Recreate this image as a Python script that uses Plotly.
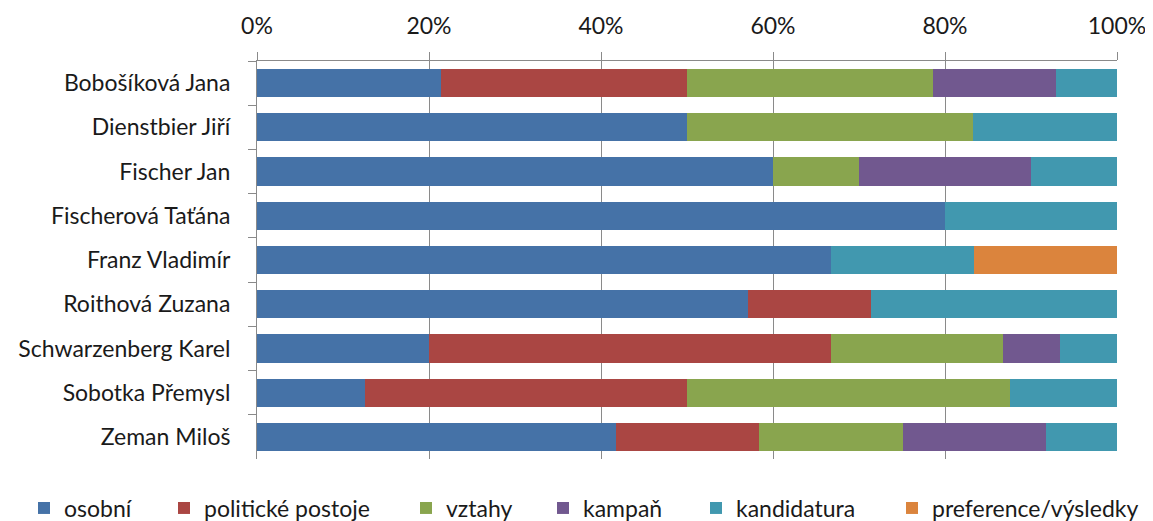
import plotly.graph_objects as go

categories = ["Bobošíková Jana", "Dienstbier Jiří", "Fischer Jan", "Fischerová Taťána",
              "Franz Vladimír", "Roithová Zuzana", "Schwarzenberg Karel", "Sobotka Přemysl", "Zeman Miloš"]

osobni = [21.4, 50.0, 60.0, 80.0, 66.7, 57.1, 20.0, 12.5, 41.7]
politicke = [28.6, 0, 0, 0, 0, 14.3, 46.7, 37.5, 16.7]
vztahy = [28.6, 33.3, 10.0, 0, 0, 0, 20.0, 37.5, 16.7]
kampan = [14.3, 0, 20.0, 0, 0, 0, 6.7, 0, 16.7]
kandidatura = [7.1, 16.7, 10.0, 20.0, 16.7, 28.6, 6.6, 12.5, 8.2]
preference = [0, 0, 0, 0, 16.6, 0, 0, 0, 0]

series = [
    ("osobní", osobni, "#4572A7"),
    ("politické postoje", politicke, "#AA4643"),
    ("vztahy", vztahy, "#89A54E"),
    ("kampaň", kampan, "#71588F"),
    ("kandidatura", kandidatura, "#4198AF"),
    ("preference/výsledky", preference, "#DB843D"),
]

tick_vals = [0, 20, 40, 60, 80, 100]
tick_text = ["0%", "20%", "40%", "60%", "80%", "100%"]

# layout geometry (figure pixels)
W, H = 1145, 513
ML, MR, MT, MB = 249, 36, 53, 62
plot_w = W - ML - MR
plot_h = H - MT - MB
# legend entry positions (left of each swatch, in page pixels)
legend_left_px = [45, 185, 427, 564, 717, 913]

fig = go.Figure()
for i, (name, vals, color) in enumerate(series):
    lg = "legend" if i == 0 else f"legend{i + 1}"
    fig.add_trace(go.Bar(
        y=categories, x=vals, name=name, orientation="h",
        marker=dict(color=color, line=dict(width=0)),
        legend=lg,
    ))

font_family = "Lato, Open Sans, sans-serif"
legend_y = -(500 - (MT + plot_h)) / plot_h
legends = {}
for i, px in enumerate(legend_left_px):
    key = "legend" if i == 0 else f"legend{i + 1}"
    lx = (px - 21 - 8 - ML) / plot_w
    legends[key] = dict(orientation="h", x=lx, xanchor="left", y=legend_y, yanchor="middle",
                        font=dict(size=23, color="#1a1a1a"), bgcolor="rgba(0,0,0,0)")

fig.update_layout(
    barmode="stack",
    bargap=0.36,
    width=W, height=H,
    margin=dict(l=ML, r=MR, t=MT, b=MB, autoexpand=False),
    plot_bgcolor="white", paper_bgcolor="white",
    font=dict(family=font_family, size=23, color="#1a1a1a"),
    showlegend=True,
    xaxis=dict(
        side="top", range=[0, 100], tickvals=tick_vals, ticktext=tick_text,
        showgrid=True, gridcolor="#8a8a8a", gridwidth=1,
        showline=True, linecolor="#8a8a8a", linewidth=1,
        ticks="outside", ticklen=8, tickcolor="#8a8a8a",
        ticklabelstandoff=9, zeroline=False,
    ),
    yaxis=dict(
        autorange="reversed", showline=True, linecolor="#8a8a8a", linewidth=1,
        ticks="outside", ticklen=8, tickcolor="#8a8a8a", tickson="boundaries",
        ticklabelstandoff=21, showgrid=False,
    ),
    **legends,
)

fig.write_html("out.html")
